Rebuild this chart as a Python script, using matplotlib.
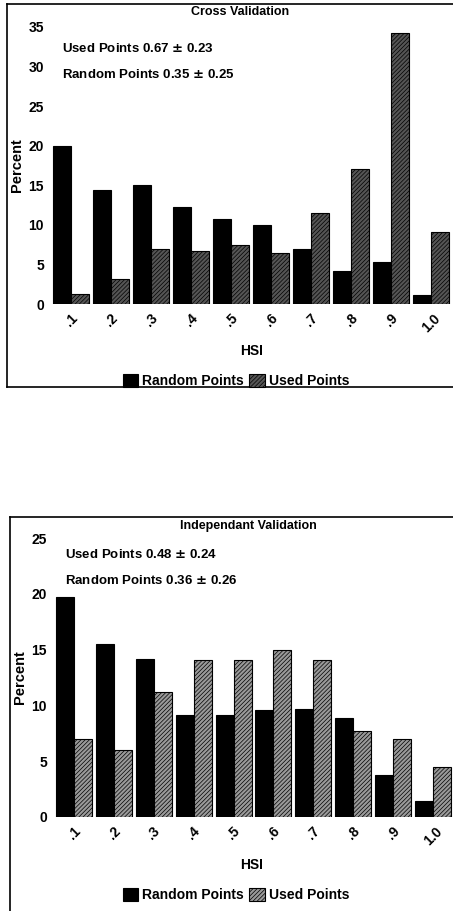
import numpy as np
import matplotlib
matplotlib.use('Agg')
import matplotlib.pyplot as plt

plt.rcParams['font.family'] = ['Liberation Sans', 'DejaVu Sans']
plt.rcParams['font.weight'] = 'bold'
plt.rcParams['hatch.linewidth'] = 0.5

hsi_labels = ['.1', '.2', '.3', '.4', '.5', '.6', '.7', '.8', '.9', '1.0']

cross_random = [20.0, 14.4, 15.0, 12.3, 10.8, 10.0, 6.9, 4.2, 5.3, 1.1]
cross_used = [1.3, 3.2, 6.9, 6.7, 7.5, 6.4, 11.5, 17.0, 34.2, 9.1]
cross_ticks = [0, 5, 10, 15, 20, 25, 30, 35]

indep_random = [19.7, 15.5, 14.2, 9.1, 9.15, 9.6, 9.65, 8.9, 3.75, 1.4]
indep_used = [7.0, 6.0, 11.2, 14.1, 14.1, 15.0, 14.1, 7.7, 6.95, 4.5]
indep_ticks = [0, 5, 10, 15, 20, 25]

W, H = 453, 911
fig = plt.figure(figsize=(W / 100, H / 100), dpi=100)


def px(x, y):
    return x / W, 1 - y / H


def draw_panel(rect, random, used, ticks, title, stats, title_xy, stats_xy,
               hsi_y, legend_y, used_face):
    ax = fig.add_axes(rect)
    x = np.arange(len(hsi_labels))
    w = 0.45
    ax.bar(x - w / 2, random, w, color='black', edgecolor='black',
           linewidth=0.8, label='Random Points')
    ax.bar(x + w / 2, used, w, color=used_face, edgecolor='black',
           hatch='////////', linewidth=0.8, label='Used Points')
    ax.set_xlim(-0.5, 9.5)
    ax.set_ylim(0, ticks[-1])
    ax.set_yticks(ticks)
    ax.set_yticklabels([str(t) for t in ticks], fontsize=10, fontweight='bold')
    ax.set_xticks(x)
    ax.set_xticklabels(hsi_labels, rotation=45, fontsize=10,
                       fontweight='bold', ha='center', va='top')
    ax.tick_params(length=0, pad=5)
    for s in ax.spines.values():
        s.set_visible(False)
    ax.set_ylabel('Percent', fontsize=10.5, fontweight='bold', labelpad=3)

    fig.text(*px(*title_xy), title, ha='center', va='center',
             fontsize=9, fontweight='bold')
    for (sx, sy), s in zip(stats_xy, stats):
        fig.text(*px(sx, sy), s, ha='left', va='center',
                 fontsize=9.5, fontweight='bold')
    fig.text(*px(252, hsi_y), 'HSI', ha='center', va='center',
             fontsize=10, fontweight='bold')
    fig.legend(*ax.get_legend_handles_labels(), loc='center',
               bbox_to_anchor=px(236, legend_y), ncol=2, frameon=False,
               fontsize=10, handlelength=1.1, handleheight=1.1,
               handletextpad=0.3, columnspacing=0.4, borderpad=0)
    return ax


# top panel
draw_panel([51 / W, 1 - 304 / H, 400 / W, (304 - 27) / H],
           cross_random, cross_used, cross_ticks, 'Cross Validation',
           ['Used Points 0.67 $\\pm$ 0.23', 'Random Points 0.35 $\\pm$ 0.25'],
           (240, 12), [(62, 48), (62, 75)], 351, 381, '#555555')

# bottom panel
draw_panel([54 / W, 1 - 817 / H, 399 / W, (817 - 538) / H],
           indep_random, indep_used, indep_ticks, 'Independant Validation',
           ['Used Points 0.48 $\\pm$ 0.24', 'Random Points 0.36 $\\pm$ 0.26'],
           (248, 526), [(65, 554), (65, 581)], 865, 895, '#999999')

# panel frames
frame = dict(color='black', lw=1.2, transform=fig.transFigure)
fig.add_artist(plt.Line2D([7 / W, 7 / W], [1 - 4 / H, 1 - 387 / H], **frame))
fig.add_artist(plt.Line2D([7 / W, 1], [1 - 4 / H, 1 - 4 / H], **frame))
fig.add_artist(plt.Line2D([7 / W, 1], [1 - 387 / H, 1 - 387 / H], **frame))
fig.add_artist(plt.Line2D([10 / W, 10 / W], [1 - 517 / H, 0], **frame))
fig.add_artist(plt.Line2D([10 / W, 1], [1 - 517 / H, 1 - 517 / H], **frame))

fig.savefig('out.png', dpi=100)
